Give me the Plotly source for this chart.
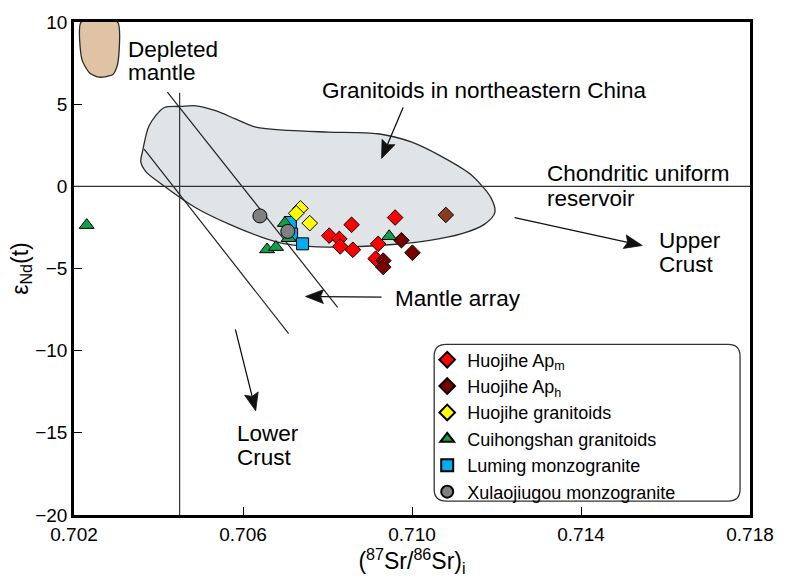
import math
import plotly.graph_objects as go

# ---------------- data ----------------
apm_x = [0.70857, 0.70960, 0.70804, 0.70828, 0.70830, 0.70860, 0.70920, 0.70914]
apm_y = [-2.34, -1.90, -3.00, -3.20, -3.66, -3.86, -3.50, -4.40]

aph_x = [0.70975, 0.71001, 0.70932, 0.70932, 0.71080]
aph_y = [-3.28, -4.04, -4.52, -4.91, -1.74]
aph_colors = ["#7A0000", "#7A0000", "#7A0000", "#7A0000", "#8B3A22"]

hgr_x = [0.70736, 0.70726, 0.70758]
hgr_y = [-1.34, -1.64, -2.24]

cui_x = [0.70230, 0.70699, 0.70708, 0.70657, 0.70678, 0.70946]
cui_y = [-2.36, -2.24, -3.16, -3.84, -3.70, -3.04]

lum_x = [0.70712, 0.70715, 0.70741]
lum_y = [-2.20, -2.90, -3.50]

xul_x = [0.70640, 0.70706]
xul_y = [-1.80, -2.74]

# Granitoids in NE China field outline
field_x = [0.70453, 0.70488, 0.70535, 0.70582, 0.70630, 0.70708, 0.70802, 0.70920,
           0.70998, 0.71078, 0.71140, 0.71187, 0.71196, 0.71172, 0.71116, 0.71038,
           0.70920, 0.70802, 0.70748, 0.70700, 0.70645, 0.70567, 0.70488, 0.70409,
           0.70370, 0.70358, 0.70362, 0.70378, 0.70413, 0.70453]
field_y = [4.86, 4.90, 4.60, 4.10, 3.60, 3.40, 3.30, 3.20,
           2.70, 1.70, 0.70, -0.70, -1.60, -2.30, -2.90, -3.30,
           -3.60, -3.70, -3.64, -3.50, -3.10, -2.30, -1.30, 0.10,
           0.90, 1.50, 2.10, 3.70, 4.78, 4.86]

# Depleted mantle field
dm_x = [0.70217, 0.70219, 0.70237, 0.70260, 0.70292, 0.70303, 0.70303, 0.70217]
dm_y = [10.0, 7.70, 6.90, 6.64, 6.80, 7.40, 10.0, 10.0]

# Reference lines
bse_x = 0.7045
bse_y = [5.7, -20]
ma1_x = [0.70421, 0.70824]
ma1_y = [5.74, -7.36]
ma2_x = [0.70366, 0.70708]
ma2_y = [2.26, -8.96]

x_ticks = [0.702, 0.706, 0.710, 0.714, 0.718]
x_ticklabels = ["0.702", "0.706", "0.710", "0.714", "0.718"]
y_ticks = [10, 5, 0, -5, -10, -15, -20]

X_RANGE = [0.702, 0.718]
Y_RANGE = [-20, 10]

FONT = "Arial, Liberation Sans, sans-serif"

W, H = 786, 582
ML, MR, MT, MB = 74, 33, 15, 67
PW, PH = W - ML - MR, H - MT - MB
KX = PW / (X_RANGE[1] - X_RANGE[0])   # px per x unit
KY = PH / (Y_RANGE[1] - Y_RANGE[0])   # px per y unit

fig = go.Figure()

# fields
fig.add_trace(go.Scatter(x=field_x, y=field_y, mode="lines", fill="toself",
                         fillcolor="#E1E4E6", line=dict(color="#2a2a2a", width=1.3, shape="spline", smoothing=0.8),
                         showlegend=False, hoverinfo="skip"))
fig.add_trace(go.Scatter(x=dm_x, y=dm_y, mode="lines", fill="toself",
                         fillcolor="#E0C3A5", line=dict(color="#2a2a2a", width=1.3, shape="spline", smoothing=0.6),
                         showlegend=False, hoverinfo="skip"))

# lines
fig.add_trace(go.Scatter(x=[bse_x, bse_x], y=bse_y, mode="lines",
                         line=dict(color="#333333", width=1.2), showlegend=False, hoverinfo="skip"))
fig.add_trace(go.Scatter(x=ma1_x, y=ma1_y, mode="lines",
                         line=dict(color="#222222", width=1.2), showlegend=False, hoverinfo="skip"))
fig.add_trace(go.Scatter(x=ma2_x, y=ma2_y, mode="lines",
                         line=dict(color="#222222", width=1.2), showlegend=False, hoverinfo="skip"))
fig.add_shape(type="line", xref="paper", yref="y", x0=0, x1=1, y0=0, y1=0,
              line=dict(color="#333333", width=1.3))

mline = dict(color="black", width=1)
fig.add_trace(go.Scatter(x=apm_x, y=apm_y, mode="markers", name="Huojihe Ap<sub>m</sub>", legendrank=1,
                         marker=dict(symbol="diamond", size=12, color="#FF0000", line=mline)))
fig.add_trace(go.Scatter(x=aph_x, y=aph_y, mode="markers", name="Huojihe Ap<sub>h</sub>", legendrank=2,
                         marker=dict(symbol="diamond", size=12, color=aph_colors, line=mline)))
fig.add_trace(go.Scatter(x=lum_x, y=lum_y, mode="markers", name="Luming monzogranite", legendrank=5,
                         marker=dict(symbol="square", size=12, color="#00AEEF", line=mline)))
fig.add_trace(go.Scatter(x=cui_x, y=cui_y, mode="markers", name="Cuihongshan granitoids", legendrank=4,
                         marker=dict(symbol="triangle-up", size=13, color="#0FA04A", line=mline)))
fig.add_trace(go.Scatter(x=hgr_x, y=hgr_y, mode="markers", name="Huojihe granitoids", legendrank=3,
                         marker=dict(symbol="diamond", size=12, color="#FFFF00", line=mline)))
fig.add_trace(go.Scatter(x=xul_x, y=xul_y, mode="markers", name="Xulaojiugou monzogranite", legendrank=6,
                         marker=dict(symbol="circle", size=14, color="#808080", line=mline)))

# legend rounded box (paper coords)
x0, x1, y0, y1 = 0.5328, 0.9853, 0.028, 0.346
rx, ry = 12 / PW, 12 / PH
path = (f"M {x0+rx},{y0} L {x1-rx},{y0} Q {x1},{y0} {x1},{y0+ry} L {x1},{y1-ry} "
        f"Q {x1},{y1} {x1-rx},{y1} L {x0+rx},{y1} Q {x0},{y1} {x0},{y1-ry} "
        f"L {x0},{y0+ry} Q {x0},{y0} {x0+rx},{y0} Z")
fig.add_shape(type="path", xref="paper", yref="paper", path=path,
              line=dict(color="#333333", width=1.3), fillcolor="rgba(0,0,0,0)")

# text labels (one annotation per line for tight line spacing)
tfont = dict(family=FONT, size=22.5, color="black")
labels = [
    (0.70322, 8.32, "Depleted"),
    (0.70322, 6.94, "mantle"),
    (0.70782, 5.86, "Granitoids in northeastern China"),
    (0.71315, 0.80, "Chondritic uniform"),
    (0.71315, -0.72, "reservoir"),
    (0.71579, -3.30, "Upper"),
    (0.71579, -4.74, "Crust"),
    (0.70954, -6.80, "Mantle array"),
    (0.70581, -15.04, "Lower"),
    (0.70581, -16.52, "Crust"),
]
for lx, ly, lt in labels:
    fig.add_annotation(x=lx, y=ly, text=lt, showarrow=False, xanchor="left", yanchor="middle",
                       align="left", font=tfont)

# arrows (head x,y ; tail x,y) drawn as shaft + filled head
arrows = [
    (0.70928, 1.70, 0.70979, 4.80),
    (0.71545, -3.60, 0.71243, -1.90),
    (0.70748, -6.70, 0.70928, -6.74),
    (0.70630, -13.66, 0.70582, -8.70),
]
HL, HW, NOTCH = 18.0, 7.0, 3.0
for hx, hy, tx, ty in arrows:
    dxp = (hx - tx) * KX
    dyp = (hy - ty) * KY
    L = math.hypot(dxp, dyp)
    ux, uy = dxp / L, dyp / L
    nx, ny = -uy, ux
    def to_data(px, py):
        return hx + px / KX, hy + py / KY
    bx, by = -HL * ux, -HL * uy
    lx_, ly_ = to_data(bx + HW * nx, by + HW * ny)
    rx_, ry_ = to_data(bx - HW * nx, by - HW * ny)
    nx_, ny_ = to_data(-(HL - NOTCH) * ux, -(HL - NOTCH) * uy)
    fig.add_shape(type="line", xref="x", yref="y", x0=tx, y0=ty, x1=nx_, y1=ny_,
                  line=dict(color="#111111", width=1.3))
    fig.add_shape(type="path", xref="x", yref="y",
                  path=f"M {hx},{hy} L {lx_},{ly_} L {nx_},{ny_} L {rx_},{ry_} Z",
                  fillcolor="#111111", line=dict(color="#111111", width=0.8))

fig.update_layout(
    width=W, height=H,
    margin=dict(l=ML, r=MR, t=MT, b=MB),
    paper_bgcolor="white", plot_bgcolor="white",
    font=dict(family=FONT, size=19, color="black"),
    legend=dict(x=0.5225, y=0.352, xanchor="left", yanchor="top",
                bgcolor="rgba(0,0,0,0)", borderwidth=0,
                font=dict(family=FONT, size=18, color="black"),
                itemsizing="constant"),
)
fig.update_xaxes(range=X_RANGE, tickvals=x_ticks, ticktext=x_ticklabels,
                 showline=True, linewidth=2.5, linecolor="black", mirror=True,
                 ticks="inside", ticklen=8, tickwidth=1.3, tickcolor="black",
                 showgrid=False, zeroline=False,
                 tickfont=dict(family=FONT, size=19),
                 title=dict(text="(<sup>87</sup>Sr/<sup>86</sup>Sr)<sub>i</sub>",
                            font=dict(family=FONT, size=23), standoff=6))
fig.update_yaxes(range=Y_RANGE, tickvals=y_ticks,
                 showline=True, linewidth=2.5, linecolor="black", mirror=True,
                 ticks="inside", ticklen=8, tickwidth=1.3, tickcolor="black",
                 showgrid=False, zeroline=False,
                 tickfont=dict(family=FONT, size=19),
                 title=dict(text="ε<sub>Nd</sub>(t)", font=dict(family=FONT, size=23), standoff=1))

fig.write_html("out.html")
